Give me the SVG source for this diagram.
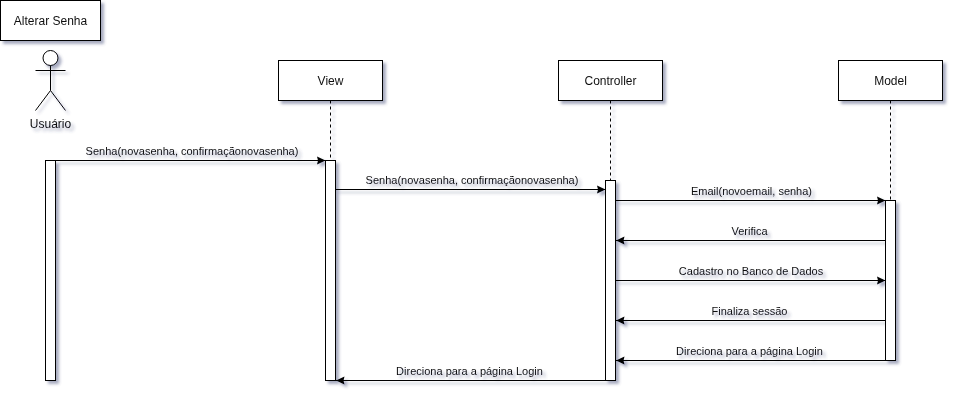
<svg xmlns="http://www.w3.org/2000/svg" width="955" height="401" viewBox="0 0 955 401">
<style>
rect,circle{fill:#fff;stroke:#000;stroke-width:1}
.l{stroke:#000;stroke-width:1;fill:none}
.d{stroke-dasharray:3 3}
text{font-family:"Liberation Sans",Arial,sans-serif;fill:#111;text-anchor:middle}
.n{font-size:12px}
.m{font-size:11px}
.s{filter:url(#sh)}
</style>
<defs>
<filter id="sh" x="-20%" y="-20%" width="150%" height="150%">
<feGaussianBlur in="SourceAlpha" stdDeviation="1.7"/>
<feOffset dx="3" dy="3" result="b"/>
<feFlood flood-color="#3d4574" flood-opacity="0.45"/>
<feComposite in2="b" operator="in"/>
<feMerge><feMergeNode/><feMergeNode in="SourceGraphic"/></feMerge>
</filter>
<marker id="a" markerUnits="userSpaceOnUse" markerWidth="10" markerHeight="9" refX="8.5" refY="4.5" orient="auto"><path d="M0 0.5L8.5 4.5L0 8.5L1 4.5Z" fill="#000"/></marker>
</defs>
<g class="s">
<g id="title"><rect x="0.5" y="0.5" width="100" height="40"/><text class="n" x="50.5" y="24.5">Alterar Senha</text></g>
<g id="usuario"><circle cx="50.5" cy="58" r="7.5"/><path class="l" d="M50.5 65.5V90.5M35.5 70.5H65.5M50.5 90.5L35.5 110.5M50.5 90.5L65.5 110.5"/><text class="n" x="50.5" y="128">Usuário</text></g>
<g id="view"><rect x="278.5" y="60.5" width="104" height="40"/><text class="n" x="330.5" y="84.5">View</text></g>
<g id="controller"><rect x="558.5" y="60.5" width="104" height="40"/><text class="n" x="610.5" y="84.5">Controller</text></g>
<g id="model"><rect x="838.5" y="60.5" width="104" height="40"/><text class="n" x="890.5" y="84.5">Model</text></g>
<g id="connectors">
<path class="l d" d="M330.5 100.5V160.5M610.5 100.5V180.5M890.5 100.5V200.5"/>
<path class="l" marker-end="url(#a)" d="M55.5 160.5H325.5"/>
<path class="l" marker-end="url(#a)" d="M335.5 189.5H605.5"/>
<path class="l" marker-end="url(#a)" d="M615.5 200.5H885.5"/>
<path class="l" marker-end="url(#a)" d="M885.5 240.5H616"/>
<path class="l" marker-end="url(#a)" d="M615.5 280.5H885.5"/>
<path class="l" marker-end="url(#a)" d="M885.5 320.5H616"/>
<path class="l" marker-end="url(#a)" d="M885.5 360.5H616"/>
<path class="l" marker-end="url(#a)" d="M605.5 380.5H336"/>
<text class="m" x="192" y="155">Senha(novasenha, confirmaçãonovasenha)</text>
<text class="m" x="472" y="184">Senha(novasenha, confirmaçãonovasenha)</text>
<text class="m" x="751.5" y="195">Email(novoemail, senha)</text>
<text class="m" x="749.5" y="235">Verifica</text>
<text class="m" x="751" y="275">Cadastro no Banco de Dados</text>
<text class="m" x="749.5" y="315">Finaliza sessão</text>
<text class="m" x="749.5" y="355">Direciona para a página Login</text>
<text class="m" x="469.5" y="375">Direciona para a página Login</text>
</g>
<g id="act-usuario"><rect x="45.5" y="160.5" width="10" height="220"/></g>
<g id="act-view"><rect x="325.5" y="160.5" width="10" height="220"/></g>
<g id="act-controller"><rect x="605.5" y="180.5" width="10" height="200"/></g>
<g id="act-model"><rect x="885.5" y="200.5" width="10" height="160"/></g>
</g>
</svg>
